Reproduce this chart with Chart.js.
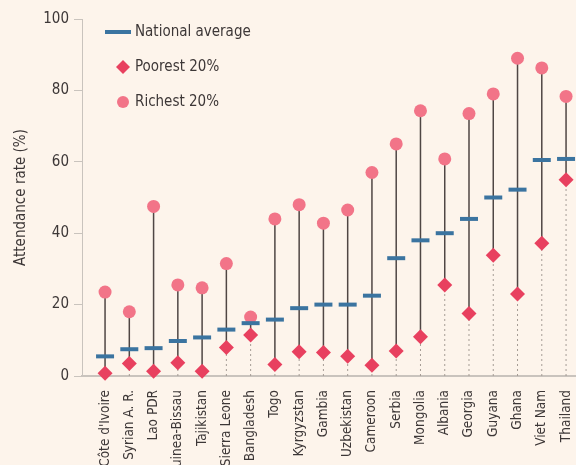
<!DOCTYPE html>
<html>
<head>
<meta charset="utf-8">
<script src="https://cdn.jsdelivr.net/npm/chart.js@4"></script>
<style>
  html, body { margin: 0; padding: 0; background: #fdf4eb; }
  #wrap { width: 576px; height: 465px; position: relative; }
</style>
</head>
<body>
<div id="wrap"><canvas id="chart" width="576" height="465"></canvas></div>
<script>
const countries = ["Côte d'Ivoire", "Syrian A. R.", "Lao PDR", "Guinea-Bissau", "Tajikistan",
  "Sierra Leone", "Bangladesh", "Togo", "Kyrgyzstan", "Gambia", "Uzbekistan", "Cameroon",
  "Serbia", "Mongolia", "Albania", "Georgia", "Guyana", "Ghana", "Viet Nam", "Thailand"];
const nationalAvg = [5.5, 7.5, 7.8, 9.8, 10.8, 13, 14.8, 15.8, 19, 20, 20, 22.5,
  33, 38, 40, 44, 50, 52.2, 60.5, 60.8];
const poorest = [0.8, 3.5, 1.3, 3.7, 1.3, 8, 11.5, 3.2, 6.8, 6.6, 5.5, 3,
  7, 11, 25.5, 17.5, 33.8, 23, 37.2, 55];
const richest = [23.5, 18, 47.5, 25.5, 24.7, 31.5, 16.5, 44, 48, 42.8, 46.5, 57,
  65, 74.3, 60.8, 73.5, 79, 89, 86.3, 78.3];
const yTicks = [0, 20, 40, 60, 80, 100];

const FONT = "'Liberation Sans Narrow', 'DejaVu Sans Condensed', sans-serif";
const TEXT_COLOR = "#3d3737";
const AVG_COLOR = "#3b74a0";
const POOR_COLOR = "#e8405f";
const RICH_COLOR = "#f27488";
const AXIS_COLOR = "#c9c3bd";

const pts = (arr) => arr.map((v, i) => ({ x: i, y: v }));

// stems (poorest -> richest) and dotted lines (0 -> poorest)
const stemPlugin = {
  id: "stems",
  beforeDatasetsDraw(chart) {
    const { ctx, scales: { x, y } } = chart;
    ctx.save();
    countries.forEach((c, i) => {
      const px = x.getPixelForValue(i);
      // dotted
      ctx.strokeStyle = "#a59c95";
      ctx.lineWidth = 1;
      ctx.setLineDash([2, 3]);
      ctx.beginPath();
      ctx.moveTo(px, y.getPixelForValue(0));
      ctx.lineTo(px, y.getPixelForValue(poorest[i]));
      ctx.stroke();
      // solid stem
      ctx.setLineDash([]);
      ctx.strokeStyle = "#4f4644";
      ctx.lineWidth = 1.5;
      ctx.beginPath();
      ctx.moveTo(px, y.getPixelForValue(poorest[i]));
      ctx.lineTo(px, y.getPixelForValue(richest[i]));
      ctx.stroke();
    });
    ctx.restore();
  },
};

// legend drawn inside the plot area, top left
const legendPlugin = {
  id: "insideLegend",
  afterDraw(chart) {
    const ctx = chart.ctx;
    ctx.save();
    ctx.font = "15px " + FONT;
    ctx.textBaseline = "middle";
    // national average
    ctx.strokeStyle = AVG_COLOR;
    ctx.lineWidth = 4;
    ctx.beginPath();
    ctx.moveTo(105, 32);
    ctx.lineTo(131, 32);
    ctx.stroke();
    ctx.fillStyle = TEXT_COLOR;
    ctx.fillText("National average", 135, 32);
    // poorest
    ctx.fillStyle = POOR_COLOR;
    ctx.beginPath();
    ctx.moveTo(123, 60); ctx.lineTo(130, 67); ctx.lineTo(123, 74); ctx.lineTo(116, 67);
    ctx.closePath();
    ctx.fill();
    ctx.fillStyle = TEXT_COLOR;
    ctx.fillText("Poorest 20%", 135, 67);
    // richest
    ctx.fillStyle = RICH_COLOR;
    ctx.beginPath();
    ctx.arc(123, 102, 6, 0, Math.PI * 2);
    ctx.fill();
    ctx.fillStyle = TEXT_COLOR;
    ctx.fillText("Richest 20%", 135, 102);
    ctx.restore();
  },
};

const bgPlugin = {
  id: "bg",
  beforeDraw(chart) {
    const ctx = chart.ctx;
    ctx.save();
    ctx.fillStyle = "#fdf4eb";
    ctx.fillRect(0, 0, chart.width, chart.height);
    ctx.restore();
  },
};

new Chart(document.getElementById("chart"), {
  type: "scatter",
  data: {
    datasets: [
      {
        label: "National average",
        data: pts(nationalAvg),
        pointStyle: "line",
        radius: 9,
        borderWidth: 4,
        borderColor: AVG_COLOR,
        backgroundColor: AVG_COLOR,
        clip: false,
      },
      {
        label: "Poorest 20%",
        data: pts(poorest),
        pointStyle: "rectRot",
        radius: 7.5,
        borderWidth: 0,
        backgroundColor: POOR_COLOR,
        clip: false,
      },
      {
        label: "Richest 20%",
        data: pts(richest),
        pointStyle: "circle",
        radius: 6.5,
        borderWidth: 0,
        backgroundColor: RICH_COLOR,
        clip: false,
      },
    ],
  },
  options: {
    responsive: false,
    animation: false,
    layout: {
      autoPadding: false,
      padding: { top: 19, right: 0, left: 0, bottom: 0 },
    },
    plugins: {
      legend: { display: false },
      tooltip: { enabled: false },
    },
    scales: {
      x: {
        type: "linear",
        min: -0.95,
        max: 19.41,
        afterBuildTicks: (axis) => {
          axis.ticks = countries.map((c, i) => ({ value: i }));
        },
        afterFit: (axis) => {
          axis.height = 89;
          axis.paddingLeft = 0;
          axis.paddingRight = 0;
        },
        grid: { display: false },
        border: { color: AXIS_COLOR, width: 2 },
        ticks: {
          autoSkip: false,
          maxRotation: 90,
          minRotation: 90,
          padding: 6,
          color: TEXT_COLOR,
          font: { family: FONT, size: 13.5 },
          callback: (v) => countries[v],
        },
      },
      y: {
        min: 0,
        max: 100,
        afterBuildTicks: (axis) => {
          axis.ticks = yTicks.map((v) => ({ value: v }));
        },
        afterFit: (axis) => { axis.width = 82; },
        grid: { drawOnChartArea: false, drawTicks: true, tickLength: 8, color: AXIS_COLOR },
        border: { color: AXIS_COLOR, width: 1 },
        ticks: {
          padding: 5,
          color: TEXT_COLOR,
          font: { family: FONT, size: 15 },
        },
        title: {
          display: true,
          text: "Attendance rate (%)",
          color: TEXT_COLOR,
          font: { family: FONT, size: 15 },
          padding: { top: 12, bottom: 0 },
        },
      },
    },
  },
  plugins: [bgPlugin, stemPlugin, legendPlugin],
});
</script>
</body>
</html>
